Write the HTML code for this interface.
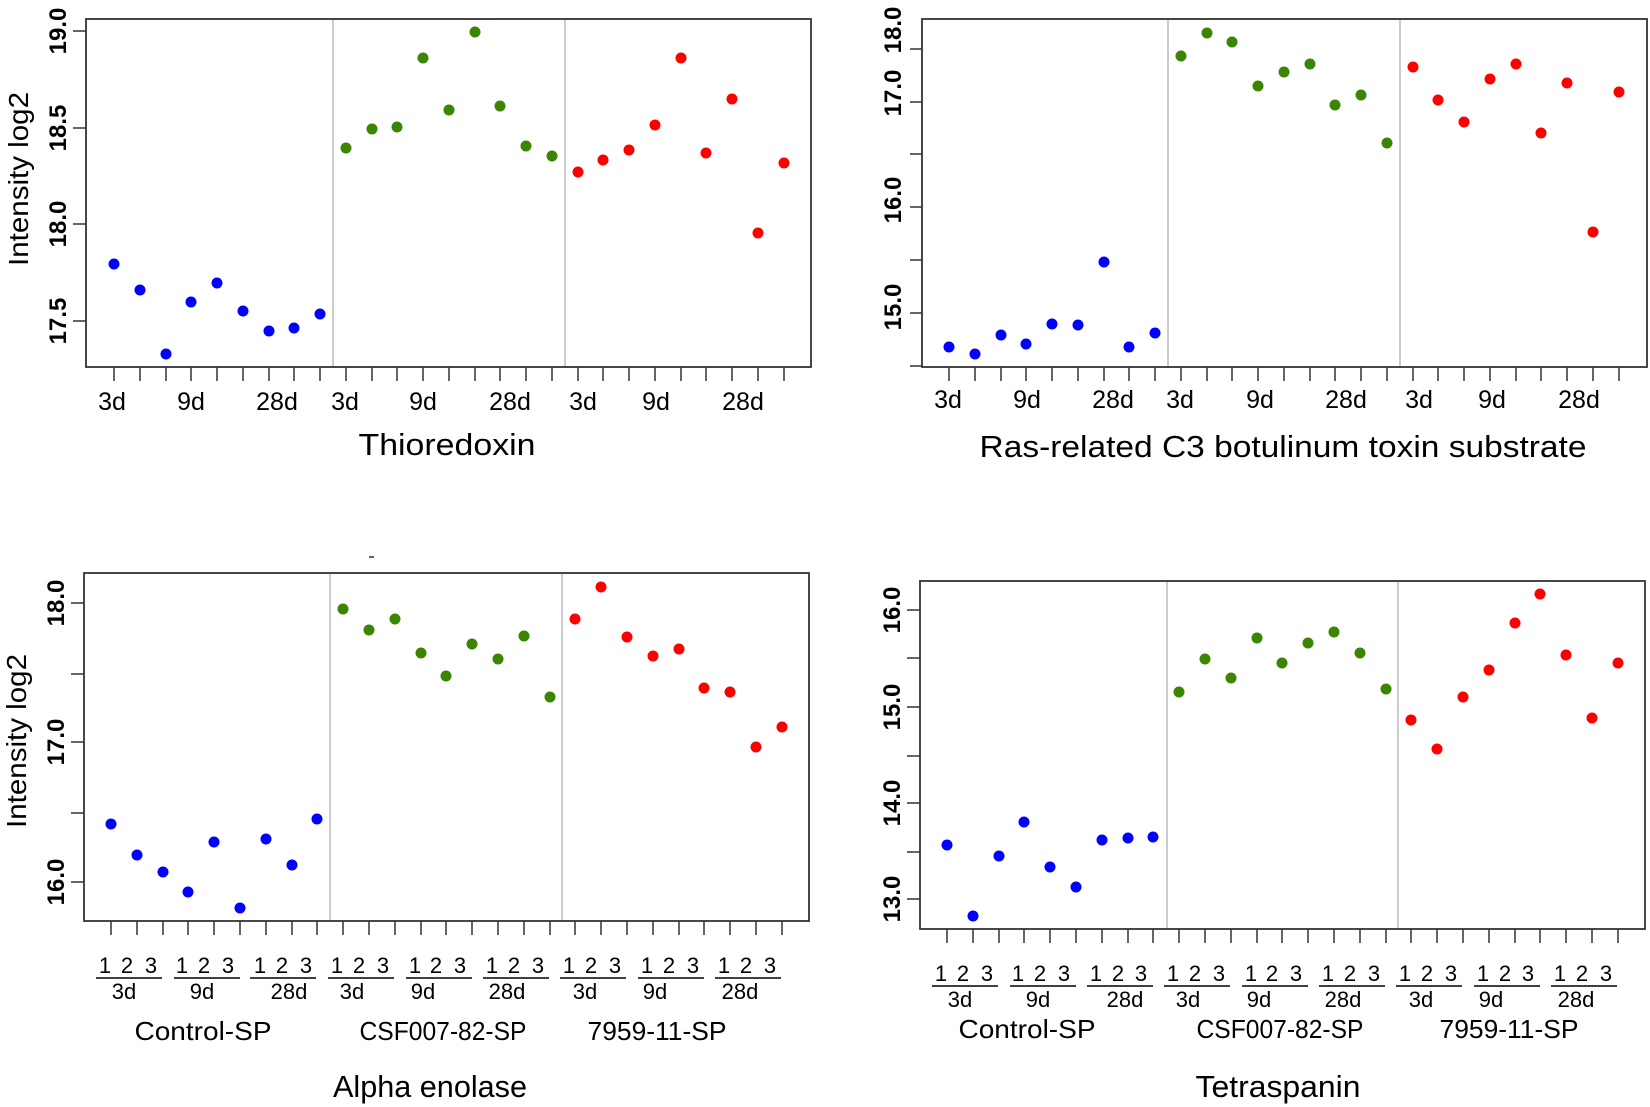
<!DOCTYPE html>
<html><head><meta charset="utf-8"><style>
html,body{margin:0;padding:0;background:#fff;}
svg{display:block;}
text{font-family:"Liberation Sans",sans-serif;fill:#000;}
.yt{font-weight:bold;font-size:24px;}
.xt{font-size:25px;}
.dg{font-size:22px;}
.gl{font-size:26px;}
.ti{font-size:31px;}
.yl{font-size:28px;}
</style></head><body>
<svg width="1650" height="1107" viewBox="0 0 1650 1107" xmlns="http://www.w3.org/2000/svg">
<rect width="1650" height="1107" fill="#fff"/>

<!-- ================= TOP LEFT ================= -->
<g stroke="#bbb" stroke-width="1.5"><line x1="333" y1="19" x2="333" y2="367"/><line x1="565" y1="19" x2="565" y2="367"/></g>
<rect x="86" y="19" width="725" height="348" fill="none" stroke="#333" stroke-width="1.8"/>
<g stroke="#333" stroke-width="1.5">
<line x1="86" y1="31" x2="73" y2="31"/><line x1="86" y1="128" x2="73" y2="128"/><line x1="86" y1="224" x2="73" y2="224"/><line x1="86" y1="321" x2="73" y2="321"/>
<path d="M114 367v14M140 367v14M166 367v14M191 367v14M217 367v14M243 367v14M269 367v14M294 367v14M320 367v14M346 367v14M372 367v14M397 367v14M423 367v14M449 367v14M475 367v14M500 367v14M526 367v14M552 367v14M578 367v14M603 367v14M629 367v14M655 367v14M681 367v14M706 367v14M732 367v14M758 367v14M784 367v14"/>
</g>
<g class="yt" text-anchor="middle">
<text transform="translate(66,31) rotate(-90)">19.0</text>
<text transform="translate(66,128) rotate(-90)">18.5</text>
<text transform="translate(66,224) rotate(-90)">18.0</text>
<text transform="translate(66,321) rotate(-90)">17.5</text>
</g>
<text class="yl" text-anchor="middle" transform="translate(28,179) rotate(-90)" textLength="174" lengthAdjust="spacingAndGlyphs">Intensity log2</text>
<g class="xt" text-anchor="middle">
<text x="112" y="410">3d</text><text x="191" y="410">9d</text><text x="277" y="410">28d</text>
<text x="345" y="410">3d</text><text x="423" y="410">9d</text><text x="510" y="410">28d</text>
<text x="583" y="410">3d</text><text x="656" y="410">9d</text><text x="743" y="410">28d</text>
</g>
<text class="ti" x="447" y="455" text-anchor="middle" textLength="177" lengthAdjust="spacingAndGlyphs">Thioredoxin</text>
<g fill="#0000ff">
<circle cx="114" cy="264" r="5.5"/><circle cx="140" cy="290" r="5.5"/><circle cx="166" cy="354" r="5.5"/><circle cx="191" cy="302" r="5.5"/><circle cx="217" cy="283" r="5.5"/><circle cx="243" cy="311" r="5.5"/><circle cx="269" cy="331" r="5.5"/><circle cx="294" cy="328" r="5.5"/><circle cx="320" cy="314" r="5.5"/>
</g>
<g fill="#3c8500">
<circle cx="346" cy="148" r="5.5"/><circle cx="372" cy="129" r="5.5"/><circle cx="397" cy="127" r="5.5"/><circle cx="423" cy="58" r="5.5"/><circle cx="449" cy="110" r="5.5"/><circle cx="475" cy="32" r="5.5"/><circle cx="500" cy="106" r="5.5"/><circle cx="526" cy="146" r="5.5"/><circle cx="552" cy="156" r="5.5"/>
</g>
<g fill="#ff0000">
<circle cx="578" cy="172" r="5.5"/><circle cx="603" cy="160" r="5.5"/><circle cx="629" cy="150" r="5.5"/><circle cx="655" cy="125" r="5.5"/><circle cx="681" cy="58" r="5.5"/><circle cx="706" cy="153" r="5.5"/><circle cx="732" cy="99" r="5.5"/><circle cx="758" cy="233" r="5.5"/><circle cx="784" cy="163" r="5.5"/>
</g>

<!-- ================= TOP RIGHT ================= -->
<g stroke="#bbb" stroke-width="1.5"><line x1="1168" y1="19" x2="1168" y2="367"/><line x1="1400" y1="19" x2="1400" y2="367"/></g>
<rect x="922" y="19" width="725" height="348" fill="none" stroke="#333" stroke-width="1.8"/>
<g stroke="#333" stroke-width="1.5">
<path d="M922 49h-12M922 102h-12M922 154h-12M922 207h-12M922 260h-12M922 313h-12M922 366h-12"/>
<path d="M949 367v14M975 367v14M1001 367v14M1026 367v14M1052 367v14M1078 367v14M1104 367v14M1129 367v14M1155 367v14M1181 367v14M1207 367v14M1232 367v14M1258 367v14M1284 367v14M1310 367v14M1335 367v14M1361 367v14M1387 367v14M1413 367v14M1438 367v14M1464 367v14M1490 367v14M1516 367v14M1541 367v14M1567 367v14M1593 367v14M1619 367v14"/>
</g>
<g class="yt" text-anchor="middle">
<text transform="translate(901,30) rotate(-90)">18.0</text>
<text transform="translate(901,93) rotate(-90)">17.0</text>
<text transform="translate(901,200) rotate(-90)">16.0</text>
<text transform="translate(901,307) rotate(-90)">15.0</text>
</g>
<g class="xt" text-anchor="middle">
<text x="948" y="408">3d</text><text x="1027" y="408">9d</text><text x="1113" y="408">28d</text>
<text x="1180" y="408">3d</text><text x="1260" y="408">9d</text><text x="1346" y="408">28d</text>
<text x="1419" y="408">3d</text><text x="1492" y="408">9d</text><text x="1579" y="408">28d</text>
</g>
<text class="ti" x="1283" y="457" text-anchor="middle" textLength="607" lengthAdjust="spacingAndGlyphs">Ras-related C3 botulinum toxin substrate</text>
<g fill="#0000ff">
<circle cx="949" cy="347" r="5.5"/><circle cx="975" cy="354" r="5.5"/><circle cx="1001" cy="335" r="5.5"/><circle cx="1026" cy="344" r="5.5"/><circle cx="1052" cy="324" r="5.5"/><circle cx="1078" cy="325" r="5.5"/><circle cx="1104" cy="262" r="5.5"/><circle cx="1129" cy="347" r="5.5"/><circle cx="1155" cy="333" r="5.5"/>
</g>
<g fill="#3c8500">
<circle cx="1181" cy="56" r="5.5"/><circle cx="1207" cy="33" r="5.5"/><circle cx="1232" cy="42" r="5.5"/><circle cx="1258" cy="86" r="5.5"/><circle cx="1284" cy="72" r="5.5"/><circle cx="1310" cy="64" r="5.5"/><circle cx="1335" cy="105" r="5.5"/><circle cx="1361" cy="95" r="5.5"/><circle cx="1387" cy="143" r="5.5"/>
</g>
<g fill="#ff0000">
<circle cx="1413" cy="67" r="5.5"/><circle cx="1438" cy="100" r="5.5"/><circle cx="1464" cy="122" r="5.5"/><circle cx="1490" cy="79" r="5.5"/><circle cx="1516" cy="64" r="5.5"/><circle cx="1541" cy="133" r="5.5"/><circle cx="1567" cy="83" r="5.5"/><circle cx="1593" cy="232" r="5.5"/><circle cx="1619" cy="92" r="5.5"/>
</g>

<!-- ================= BOTTOM LEFT ================= -->
<line x1="369" y1="557" x2="374" y2="557" stroke="#333" stroke-width="1.5"/>
<g stroke="#bbb" stroke-width="1.5"><line x1="330" y1="573" x2="330" y2="921"/><line x1="562" y1="573" x2="562" y2="921"/></g>
<rect x="84" y="573" width="725" height="348" fill="none" stroke="#333" stroke-width="1.8"/>
<g stroke="#333" stroke-width="1.5">
<path d="M84 603h-13M84 674h-13M84 742h-13M84 813h-13M84 882h-13"/>
<path d="M111 921v14M137 921v14M163 921v14M188 921v14M214 921v14M240 921v14M266 921v14M292 921v14M317 921v14M343 921v14M369 921v14M395 921v14M421 921v14M446 921v14M472 921v14M498 921v14M524 921v14M550 921v14M575 921v14M601 921v14M627 921v14M653 921v14M679 921v14M704 921v14M730 921v14M756 921v14M782 921v14"/>
</g>
<g class="yt" text-anchor="middle">
<text transform="translate(64,603) rotate(-90)">18.0</text>
<text transform="translate(64,742) rotate(-90)">17.0</text>
<text transform="translate(64,882) rotate(-90)">16.0</text>
</g>
<text class="yl" text-anchor="middle" transform="translate(26,741) rotate(-90)" textLength="174" lengthAdjust="spacingAndGlyphs">Intensity log2</text>
<g stroke="#000" stroke-width="1.5">
<path d="M96 978h66M174 978h66M250 978h66M328 978h66M406 978h66M483 978h66M560 978h66M638 978h66M715 978h66"/>
</g>
<g class="dg" text-anchor="middle">
<text x="105" y="973">1</text><text x="127" y="973">2</text><text x="151" y="973">3</text>
<text x="182" y="973">1</text><text x="204" y="973">2</text><text x="228" y="973">3</text>
<text x="260" y="973">1</text><text x="282" y="973">2</text><text x="306" y="973">3</text>
<text x="337" y="973">1</text><text x="359" y="973">2</text><text x="383" y="973">3</text>
<text x="415" y="973">1</text><text x="436" y="973">2</text><text x="460" y="973">3</text>
<text x="492" y="973">1</text><text x="514" y="973">2</text><text x="538" y="973">3</text>
<text x="569" y="973">1</text><text x="591" y="973">2</text><text x="615" y="973">3</text>
<text x="647" y="973">1</text><text x="669" y="973">2</text><text x="693" y="973">3</text>
<text x="724" y="973">1</text><text x="746" y="973">2</text><text x="770" y="973">3</text>
<text x="124" y="999">3d</text><text x="202" y="999">9d</text><text x="289" y="999">28d</text>
<text x="352" y="999">3d</text><text x="423" y="999">9d</text><text x="507" y="999">28d</text>
<text x="585" y="999">3d</text><text x="655" y="999">9d</text><text x="740" y="999">28d</text>
</g>
<g class="gl" text-anchor="middle">
<text x="203" y="1040" textLength="137" lengthAdjust="spacingAndGlyphs">Control-SP</text>
<text x="443" y="1040" textLength="167" lengthAdjust="spacingAndGlyphs">CSF007-82-SP</text>
<text x="657" y="1040" textLength="139" lengthAdjust="spacingAndGlyphs">7959-11-SP</text>
</g>
<text class="ti" x="430" y="1097" text-anchor="middle" textLength="194" lengthAdjust="spacingAndGlyphs">Alpha enolase</text>
<g fill="#0000ff">
<circle cx="111" cy="824" r="5.5"/><circle cx="137" cy="855" r="5.5"/><circle cx="163" cy="872" r="5.5"/><circle cx="188" cy="892" r="5.5"/><circle cx="214" cy="842" r="5.5"/><circle cx="240" cy="908" r="5.5"/><circle cx="266" cy="839" r="5.5"/><circle cx="292" cy="865" r="5.5"/><circle cx="317" cy="819" r="5.5"/>
</g>
<g fill="#3c8500">
<circle cx="343" cy="609" r="5.5"/><circle cx="369" cy="630" r="5.5"/><circle cx="395" cy="619" r="5.5"/><circle cx="421" cy="653" r="5.5"/><circle cx="446" cy="676" r="5.5"/><circle cx="472" cy="644" r="5.5"/><circle cx="498" cy="659" r="5.5"/><circle cx="524" cy="636" r="5.5"/><circle cx="550" cy="697" r="5.5"/>
</g>
<g fill="#ff0000">
<circle cx="575" cy="619" r="5.5"/><circle cx="601" cy="587" r="5.5"/><circle cx="627" cy="637" r="5.5"/><circle cx="653" cy="656" r="5.5"/><circle cx="679" cy="649" r="5.5"/><circle cx="704" cy="688" r="5.5"/><circle cx="730" cy="692" r="5.5"/><circle cx="756" cy="747" r="5.5"/><circle cx="782" cy="727" r="5.5"/>
</g>

<!-- ================= BOTTOM RIGHT ================= -->
<g stroke="#bbb" stroke-width="1.5"><line x1="1167" y1="581" x2="1167" y2="929"/><line x1="1398" y1="581" x2="1398" y2="929"/></g>
<rect x="920" y="581" width="725" height="348" fill="none" stroke="#333" stroke-width="1.8"/>
<g stroke="#333" stroke-width="1.5">
<path d="M920 610h-13M920 658h-13M920 707h-13M920 756h-13M920 803h-13M920 852h-13M920 899h-13"/>
<path d="M947 929v14M973 929v14M999 929v14M1024 929v14M1050 929v14M1076 929v14M1102 929v14M1128 929v14M1153 929v14M1179 929v14M1205 929v14M1231 929v14M1257 929v14M1282 929v14M1308 929v14M1334 929v14M1360 929v14M1386 929v14M1411 929v14M1437 929v14M1463 929v14M1489 929v14M1515 929v14M1540 929v14M1566 929v14M1592 929v14M1618 929v14"/>
</g>
<g class="yt" text-anchor="middle">
<text transform="translate(900,610) rotate(-90)">16.0</text>
<text transform="translate(900,707) rotate(-90)">15.0</text>
<text transform="translate(900,803) rotate(-90)">14.0</text>
<text transform="translate(900,899) rotate(-90)">13.0</text>
</g>
<g stroke="#000" stroke-width="1.5">
<path d="M932 986h66M1010 986h66M1087 986h66M1164 986h66M1242 986h66M1319 986h66M1396 986h66M1474 986h66M1551 986h66"/>
</g>
<g class="dg" text-anchor="middle">
<text x="941" y="981">1</text><text x="963" y="981">2</text><text x="987" y="981">3</text>
<text x="1018" y="981">1</text><text x="1040" y="981">2</text><text x="1064" y="981">3</text>
<text x="1096" y="981">1</text><text x="1118" y="981">2</text><text x="1141" y="981">3</text>
<text x="1173" y="981">1</text><text x="1195" y="981">2</text><text x="1219" y="981">3</text>
<text x="1251" y="981">1</text><text x="1272" y="981">2</text><text x="1296" y="981">3</text>
<text x="1328" y="981">1</text><text x="1350" y="981">2</text><text x="1374" y="981">3</text>
<text x="1405" y="981">1</text><text x="1427" y="981">2</text><text x="1451" y="981">3</text>
<text x="1483" y="981">1</text><text x="1505" y="981">2</text><text x="1528" y="981">3</text>
<text x="1560" y="981">1</text><text x="1582" y="981">2</text><text x="1606" y="981">3</text>
<text x="960" y="1007">3d</text><text x="1038" y="1007">9d</text><text x="1125" y="1007">28d</text>
<text x="1188" y="1007">3d</text><text x="1259" y="1007">9d</text><text x="1343" y="1007">28d</text>
<text x="1421" y="1007">3d</text><text x="1491" y="1007">9d</text><text x="1576" y="1007">28d</text>
</g>
<g class="gl" text-anchor="middle">
<text x="1027" y="1038" textLength="137" lengthAdjust="spacingAndGlyphs">Control-SP</text>
<text x="1280" y="1038" textLength="167" lengthAdjust="spacingAndGlyphs">CSF007-82-SP</text>
<text x="1509" y="1038" textLength="139" lengthAdjust="spacingAndGlyphs">7959-11-SP</text>
</g>
<text class="ti" x="1278" y="1097" text-anchor="middle" textLength="165" lengthAdjust="spacingAndGlyphs">Tetraspanin</text>
<g fill="#0000ff">
<circle cx="947" cy="845" r="5.5"/><circle cx="973" cy="916" r="5.5"/><circle cx="999" cy="856" r="5.5"/><circle cx="1024" cy="822" r="5.5"/><circle cx="1050" cy="867" r="5.5"/><circle cx="1076" cy="887" r="5.5"/><circle cx="1102" cy="840" r="5.5"/><circle cx="1128" cy="838" r="5.5"/><circle cx="1153" cy="837" r="5.5"/>
</g>
<g fill="#3c8500">
<circle cx="1179" cy="692" r="5.5"/><circle cx="1205" cy="659" r="5.5"/><circle cx="1231" cy="678" r="5.5"/><circle cx="1257" cy="638" r="5.5"/><circle cx="1282" cy="663" r="5.5"/><circle cx="1308" cy="643" r="5.5"/><circle cx="1334" cy="632" r="5.5"/><circle cx="1360" cy="653" r="5.5"/><circle cx="1386" cy="689" r="5.5"/>
</g>
<g fill="#ff0000">
<circle cx="1411" cy="720" r="5.5"/><circle cx="1437" cy="749" r="5.5"/><circle cx="1463" cy="697" r="5.5"/><circle cx="1489" cy="670" r="5.5"/><circle cx="1515" cy="623" r="5.5"/><circle cx="1540" cy="594" r="5.5"/><circle cx="1566" cy="655" r="5.5"/><circle cx="1592" cy="718" r="5.5"/><circle cx="1618" cy="663" r="5.5"/>
</g>
</svg>
</body></html>
